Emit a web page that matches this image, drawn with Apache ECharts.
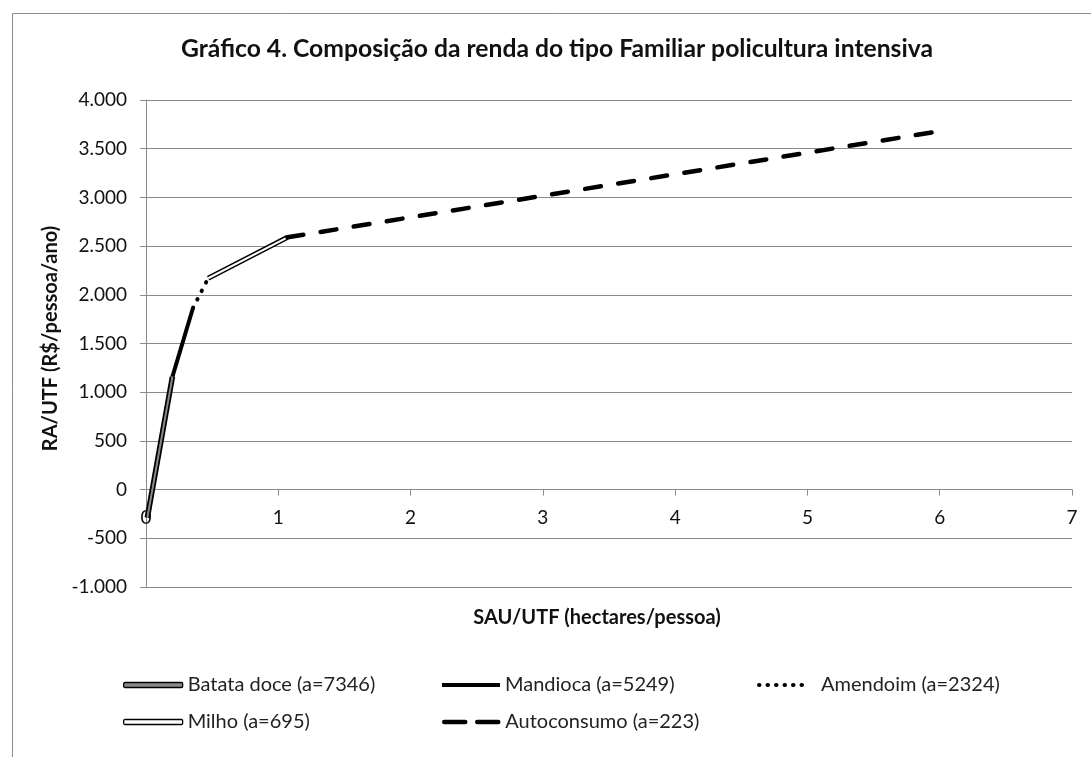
<!DOCTYPE html>
<html>
<head>
<meta charset="utf-8">
<script src="https://cdn.jsdelivr.net/npm/echarts@6/dist/echarts.min.js"></script>
<style>
html,body{margin:0;padding:0;background:#fff;}
#chart{width:1091px;height:757px;}
</style>
</head>
<body>
<div id="chart"></div>
<script>
// Data: [SAU/UTF, RA/UTF]
const batataDoce = [[0.01, -290], [0.2, 1160]];
const mandioca   = [[0.2, 1160], [0.355, 1865]];
const amendoim   = [[0.355, 1865], [0.47, 2170]];
const milho      = [[0.47, 2170], [1.07, 2590]];
const autoconsumo= [[1.07, 2590], [6.0, 3680]];
const seriesNames = ['Batata doce (a=7346)', 'Mandioca (a=5249)', 'Amendoim (a=2324)', 'Milho (a=695)', 'Autoconsumo (a=223)'];
const yTicks = {min: -1000, max: 4000, interval: 500};
const xTicks = {min: 0, max: 7, interval: 1};

const FONT = 'Lato, "Open Sans", sans-serif';
const GRID = '#8a8a8a';
const GRID_TOP = 100, GRID_BOTTOM_PX = 587;
// pixel offset that moves the x axis up to the value 0
const zeroOffset = -(GRID_BOTTOM_PX - GRID_TOP) * (0 - yTicks.min) / (yTicks.max - yTicks.min);

function fmt(v) {
  const s = String(Math.abs(v)).replace(/\B(?=(\d{3})+(?!\d))/g, '.');
  return (v < 0 ? '-' : '') + s;
}

const chart = echarts.init(document.getElementById('chart'), null, {renderer: 'canvas'});

const legendText = {fontFamily: FONT, fontSize: 20, color: '#222'};
const noSymbol = {color: 'rgba(0,0,0,0)', borderWidth: 0, opacity: 0};
function legendAt(item, left, top, extra) {
  return Object.assign({
    data: [item], left: left, top: top, itemWidth: 58, itemHeight: 6,
    padding: 0, selectedMode: false, textStyle: Object.assign({}, legendText)
  }, extra || {});
}

const option = {
  animation: false,
  backgroundColor: '#ffffff',
  graphic: [{
    type: 'rect', silent: true, z: -10,
    shape: {x: 12.5, y: 13.5, width: 1120, height: 800},
    style: {fill: 'none', stroke: '#8c8c8c', lineWidth: 1}
  }],
  title: {
    text: 'Gráfico 4. Composição da renda do tipo Familiar policultura intensiva',
    left: 552, top: 32, textAlign: 'center',
    textStyle: {fontFamily: FONT, fontSize: 24.7, fontWeight: 'bold', color: '#111'}
  },
  grid: {left: 146, right: 19, top: GRID_TOP, bottom: 757 - GRID_BOTTOM_PX, containLabel: false},
  xAxis: {
    type: 'value', min: xTicks.min, max: xTicks.max, interval: xTicks.interval,
    offset: zeroOffset,
    name: 'SAU/UTF (hectares/pessoa)', nameLocation: 'middle', nameGap: 118,
    nameTextStyle: {fontFamily: FONT, fontSize: 20, fontWeight: 'bold', color: '#111', padding: [0, 24, 0, 0]},
    axisLine: {show: true, onZero: false, lineStyle: {color: GRID, width: 1}},
    axisTick: {show: true, length: 6, lineStyle: {color: GRID}},
    axisLabel: {fontFamily: FONT, fontSize: 19, color: '#111', margin: 19},
    splitLine: {show: false}
  },
  yAxis: {
    type: 'value', min: yTicks.min, max: yTicks.max, interval: yTicks.interval,
    name: 'RA/UTF (R$/pessoa/ano)', nameLocation: 'middle', nameGap: 78, nameRotate: 90,
    nameTextStyle: {fontFamily: FONT, fontSize: 20, fontWeight: 'bold', color: '#111', padding: [0, 0, 0, 10]},
    axisLine: {show: true, onZero: false, lineStyle: {color: GRID, width: 1}},
    axisTick: {show: true, length: 6, lineStyle: {color: GRID}},
    axisLabel: {fontFamily: FONT, fontSize: 19, color: '#111', margin: 19, formatter: fmt},
    splitLine: {show: true, lineStyle: {color: GRID, width: 1}}
  },
  legend: [
    legendAt({name: seriesNames[0], icon: 'roundRect', itemStyle: {color: '#8a8a8a', borderColor: '#000', borderWidth: 1.3}}, 123, 675, {itemWidth: 59, itemHeight: 5}),
    legendAt({name: seriesNames[1], itemStyle: noSymbol, lineStyle: {color: '#000', width: 4}}, 440, 675, {itemWidth: 58}),
    legendAt({name: seriesNames[2], itemStyle: noSymbol, lineStyle: {color: '#000', width: 4, type: [0.5, 8], cap: 'round'}}, 757, 675, {itemWidth: 47, textStyle: Object.assign({}, legendText, {padding: [0, 0, 0, 10]})}),
    legendAt({name: seriesNames[3], icon: 'roundRect', itemStyle: {color: '#ffffff', borderColor: '#000', borderWidth: 1.3}}, 123, 712, {itemWidth: 59, itemHeight: 5}),
    legendAt({name: seriesNames[4], itemStyle: noSymbol, lineStyle: {color: '#000', width: 4.5, type: [21, 12], cap: 'round'}}, 442, 712, {itemWidth: 56})
  ],
  series: [
    {name: 'bg1', type: 'line', data: batataDoce, symbol: 'none', z: 2,
     lineStyle: {color: '#000', width: 5.5}},
    {name: seriesNames[0], type: 'line', data: batataDoce, symbol: 'none', z: 3,
     itemStyle: {color: '#8a8a8a'}, lineStyle: {color: '#8a8a8a', width: 2}},
    {name: seriesNames[1], type: 'line', data: mandioca, symbol: 'none', z: 3,
     itemStyle: {color: '#000'}, lineStyle: {color: '#000', width: 4}},
    {name: seriesNames[2], type: 'line', data: amendoim, symbol: 'none', z: 3,
     itemStyle: {color: '#000'}, lineStyle: {color: '#000', width: 4, type: [0.5, 9], cap: 'round'}},
    {name: 'bg2', type: 'line', data: milho, symbol: 'none', z: 2,
     lineStyle: {color: '#000', width: 5}},
    {name: seriesNames[3], type: 'line', data: milho, symbol: 'none', z: 3,
     itemStyle: {color: '#fff'}, lineStyle: {color: '#fff', width: 2}},
    {name: seriesNames[4], type: 'line', data: autoconsumo, symbol: 'none', z: 3,
     itemStyle: {color: '#000'}, lineStyle: {color: '#000', width: 4.5, type: [16, 17.5], cap: 'round'}}
  ]
};
chart.setOption(option);
</script>
</body>
</html>
